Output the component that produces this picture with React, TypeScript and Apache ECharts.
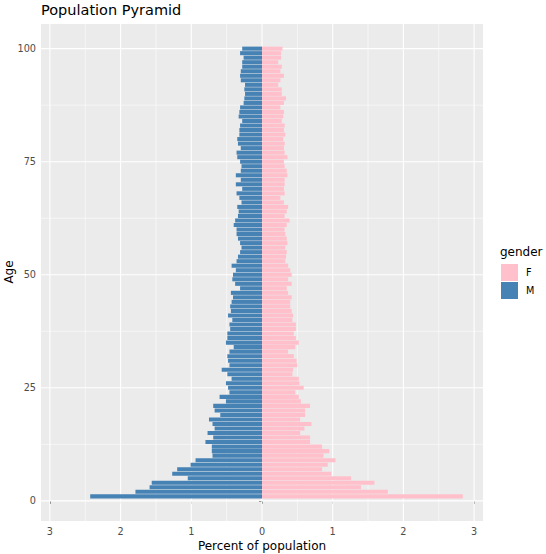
import React, { useEffect, useRef } from "react";
import * as echarts from "echarts";

const ages = [1,2,3,4,5,6,7,8,9,10,11,12,13,14,15,16,17,18,19,20,21,22,23,24,25,26,27,28,29,30,31,32,33,34,35,36,37,38,39,40,41,42,43,44,45,46,47,48,49,50,51,52,53,54,55,56,57,58,59,60,61,62,63,64,65,66,67,68,69,70,71,72,73,74,75,76,77,78,79,80,81,82,83,84,85,86,87,88,89,90,91,92,93,94,95,96,97,98,99,100];

const male = [2.43,1.79,1.59,1.56,1.05,1.27,1.20,1.01,0.94,0.70,0.71,0.71,0.80,0.69,0.77,0.67,0.70,0.75,0.59,0.67,0.69,0.51,0.60,0.46,0.48,0.51,0.43,0.49,0.57,0.46,0.48,0.49,0.46,0.40,0.51,0.49,0.49,0.45,0.46,0.42,0.48,0.44,0.45,0.43,0.41,0.44,0.31,0.38,0.42,0.41,0.37,0.43,0.36,0.34,0.31,0.29,0.31,0.34,0.36,0.36,0.40,0.38,0.34,0.33,0.35,0.29,0.32,0.36,0.28,0.37,0.30,0.37,0.30,0.29,0.31,0.35,0.36,0.30,0.34,0.35,0.32,0.32,0.31,0.28,0.33,0.32,0.31,0.26,0.25,0.24,0.25,0.24,0.30,0.31,0.30,0.28,0.28,0.26,0.31,0.28];

const female = [2.84,1.78,1.40,1.59,1.26,0.98,0.85,0.93,1.04,0.87,0.95,0.85,0.68,0.68,0.54,0.60,0.70,0.54,0.61,0.61,0.68,0.55,0.52,0.47,0.59,0.53,0.52,0.43,0.44,0.50,0.49,0.45,0.37,0.47,0.52,0.48,0.45,0.48,0.48,0.43,0.44,0.42,0.40,0.40,0.42,0.37,0.35,0.42,0.37,0.42,0.40,0.37,0.33,0.34,0.35,0.33,0.36,0.35,0.33,0.32,0.35,0.39,0.32,0.35,0.37,0.31,0.26,0.32,0.31,0.32,0.32,0.36,0.35,0.32,0.31,0.36,0.32,0.31,0.32,0.30,0.33,0.31,0.32,0.28,0.30,0.31,0.26,0.31,0.34,0.28,0.28,0.23,0.26,0.31,0.26,0.28,0.23,0.27,0.27,0.29];

const xTicks = [-3, -2, -1, 0, 1, 2, 3];
const xMinor = [-2.5, -1.5, -0.5, 0.5, 1.5, 2.5];
const yTicks = [0, 25, 50, 75, 100];
const yMinor = [12.5, 37.5, 62.5, 87.5];

const genders = ["F", "M"];
const FONT = "DejaVu Sans";
const COLOR_F = "#FFC0CB";
const COLOR_M = "#4682B4";

export default function App() {
  const ref = useRef<HTMLDivElement>(null);
  useEffect(() => {
    if (!ref.current) return;
    const chart = echarts.init(ref.current, null, { renderer: "svg" });

    // grid line data: [axis(0=x,1=y), value, major(1/0)]
    const gridData: number[][] = [];
    xMinor.forEach((v) => gridData.push([0, v, 0]));
    yMinor.forEach((v) => gridData.push([1, v, 0]));
    xTicks.forEach((v) => gridData.push([0, v, 1]));
    yTicks.forEach((v) => gridData.push([1, v, 1]));

    const barRender = (params: any, api: any) => {
      const v = api.value(0);
      const age = api.value(1);
      const p0 = api.coord([0, age]);
      const p1 = api.coord([v, age]);
      const h = api.size([0, 0.9])[1];
      return {
        type: "rect",
        shape: {
          x: Math.min(p0[0], p1[0]),
          y: p0[1] - h / 2,
          width: Math.abs(p1[0] - p0[0]),
          height: h,
        },
        style: { fill: api.visual("color") },
      };
    };

    chart.setOption({
      animation: false,
      grid: {
        left: 41,
        right: 63,
        top: 24,
        bottom: 33,
        show: true,
        backgroundColor: "#EBEBEB",
        borderWidth: 0,
      },
      xAxis: {
        type: "value",
        min: -3.126,
        max: 3.126,
        axisLine: { show: false },
        splitLine: { show: false },
        axisTick: {
          show: true,
          length: 3,
          customValues: xTicks,
          lineStyle: { color: "#333333", width: 1 },
        },
        axisLabel: {
          customValues: xTicks,
          formatter: (v: number) => String(Math.abs(v)),
          color: "#4D4D4D",
          fontSize: 9.7,
          fontFamily: FONT,
          margin: 5,
        },
      },
      yAxis: {
        type: "value",
        min: -4.45,
        max: 105.45,
        axisLine: { show: false },
        splitLine: { show: false },
        axisTick: {
          show: true,
          length: 3,
          customValues: yTicks,
          lineStyle: { color: "#333333", width: 1 },
        },
        axisLabel: {
          customValues: yTicks,
          color: "#4D4D4D",
          fontSize: 9.7,
          fontFamily: FONT,
          margin: 5,
        },
      },
      series: [
        {
          type: "custom",
          name: "grid",
          z: 1,
          silent: true,
          data: gridData,
          encode: { x: 1, y: 1 },
          renderItem: (params: any, api: any) => {
            const axis = api.value(0);
            const v = api.value(1);
            const major = api.value(2);
            const cs = params.coordSys;
            const lw = major ? 1.1 : 0.55;
            if (axis === 0) {
              const px = api.coord([v, 0])[0];
              return {
                type: "line",
                shape: { x1: px, y1: cs.y, x2: px, y2: cs.y + cs.height },
                style: { stroke: "#FFFFFF", lineWidth: lw },
              };
            }
            const py = api.coord([0, v])[1];
            return {
              type: "line",
              shape: { x1: cs.x, y1: py, x2: cs.x + cs.width, y2: py },
              style: { stroke: "#FFFFFF", lineWidth: lw },
            };
          },
        },
        {
          type: "custom",
          name: genders[0],
          z: 2,
          itemStyle: { color: COLOR_F },
          data: ages.map((a, i) => [female[i], a]),
          encode: { x: 0, y: 1 },
          renderItem: barRender,
        },
        {
          type: "custom",
          name: genders[1],
          z: 2,
          itemStyle: { color: COLOR_M },
          data: ages.map((a, i) => [-male[i], a]),
          encode: { x: 0, y: 1 },
          renderItem: barRender,
        },
      ],
      graphic: [
        {
          type: "text",
          x: 41,
          y: 10,
          style: {
            text: "Population Pyramid",
            fill: "#000000",
            fontSize: 14.5,
            fontFamily: FONT,
            align: "left",
            verticalAlign: "middle",
            textAlign: "left",
            textVerticalAlign: "middle",
          },
        },
        {
          type: "text",
          x: 262,
          y: 546,
          style: {
            text: "Percent of population",
            fill: "#000000",
            fontSize: 12,
            fontFamily: FONT,
            align: "center",
            verticalAlign: "middle",
            textAlign: "center",
            textVerticalAlign: "middle",
          },
        },
        {
          type: "text",
          x: 9,
          y: 272,
          rotation: Math.PI / 2,
          style: {
            text: "Age",
            fill: "#000000",
            fontSize: 12,
            fontFamily: FONT,
            align: "center",
            verticalAlign: "middle",
            textAlign: "center",
            textVerticalAlign: "middle",
          },
        },
        {
          type: "text",
          x: 500,
          y: 252,
          style: {
            text: "gender",
            fill: "#000000",
            fontSize: 12,
            fontFamily: FONT,
            align: "left",
            verticalAlign: "middle",
            textAlign: "left",
            textVerticalAlign: "middle",
          },
        },
        {
          type: "rect",
          shape: { x: 501, y: 264, width: 17, height: 17 },
          style: { fill: COLOR_F },
        },
        {
          type: "rect",
          shape: { x: 501, y: 282, width: 17, height: 17 },
          style: { fill: COLOR_M },
        },
        {
          type: "text",
          x: 526,
          y: 272.5,
          style: {
            text: genders[0],
            fill: "#000000",
            fontSize: 9.7,
            fontFamily: FONT,
            align: "left",
            verticalAlign: "middle",
            textAlign: "left",
            textVerticalAlign: "middle",
          },
        },
        {
          type: "text",
          x: 526,
          y: 290.5,
          style: {
            text: genders[1],
            fill: "#000000",
            fontSize: 9.7,
            fontFamily: FONT,
            align: "left",
            verticalAlign: "middle",
            textAlign: "left",
            textVerticalAlign: "middle",
          },
        },
      ],
    });
    return () => chart.dispose();
  }, []);
  return (
    <div
      ref={ref}
      style={{ position: "fixed", left: 0, top: 0, width: 546, height: 554, background: "#FFFFFF" }}
    />
  );
}
